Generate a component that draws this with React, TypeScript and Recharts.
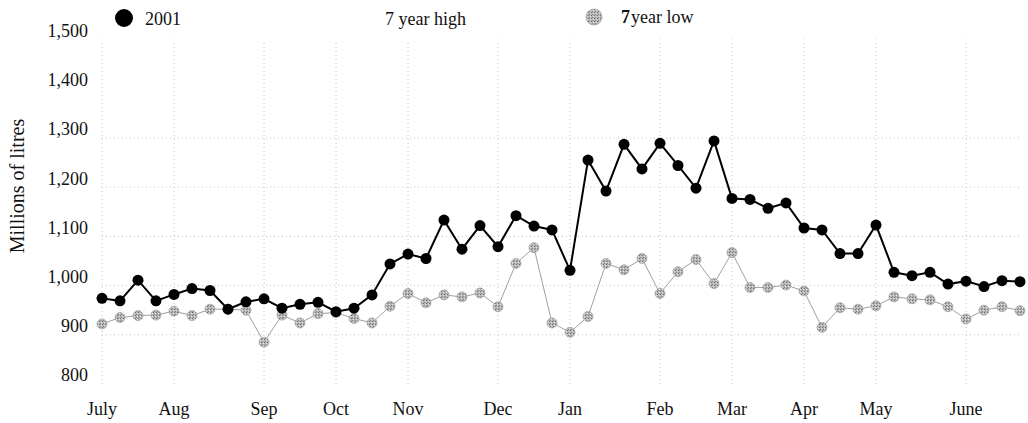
import React from "react";
import { LineChart, Line, XAxis, YAxis, ReferenceLine } from "recharts";

// weekly volumes, July 2001 -> June 2002 (millions of litres)
const actual2001 = [
  974, 969, 1011, 969, 982, 994, 990, 952, 967, 973, 954, 962, 966,
  947, 954, 981, 1044, 1064, 1055, 1133, 1074, 1122, 1079, 1142, 1121, 1113,
  1031, 1255, 1192, 1287, 1237, 1289, 1244, 1198, 1294, 1177, 1175, 1157, 1168,
  1117, 1113, 1065, 1065, 1123, 1027, 1020, 1027, 1003, 1009, 998, 1010, 1008,
];

const sevenYearLow = [
  922, 935, 939, 940, 948, 939, 952, 952, 950, 885, 940, 924, 943,
  945, 933, 924, 958, 984, 965, 981, 977, 985, 957, 1045, 1077, 924,
  905, 937, 1045, 1032, 1055, 984, 1028, 1053, 1004, 1067, 996, 996, 1001,
  989, 915, 955, 952, 959, 977, 973, 971, 957, 932, 950, 957, 949,
];

const monthLabels = ["July", "Aug", "Sep", "Oct", "Nov", "Dec", "Jan", "Feb", "Mar", "Apr", "May", "June"];
const monthWeeks = [0, 4, 9, 13, 17, 22, 26, 31, 35, 39, 43, 48];
const yTicks = [800, 900, 1000, 1100, 1200, 1300, 1400, 1500];
const gridValues = [900, 1000, 1100, 1200, 1300];

const data = actual2001.map((v, i) => ({ week: i, actual: v, low: sevenYearLow[i] }));

const FONT = '"Liberation Serif", "Times New Roman", serif';

const fmt = (v: number) => (v >= 1000 ? `${Math.floor(v / 1000)},${String(v % 1000).padStart(3, "0")}` : String(v));

const YTick = (props: any) => {
  const { x, y, payload } = props;
  return (
    <text x={x} y={y - 9} dy="0.355em" textAnchor="end" fontSize={18} fontFamily={FONT} fill="#111">
      {fmt(payload.value)}
    </text>
  );
};

const XTick = (props: any) => {
  const { x, y, payload } = props;
  const idx = monthWeeks.indexOf(payload.value);
  return (
    <text x={x} y={y} dy="0.71em" textAnchor="middle" fontSize={18} fontFamily={FONT} fill="#111">
      {idx >= 0 ? monthLabels[idx] : ""}
    </text>
  );
};

export default function App() {
  return (
    <div style={{ position: "absolute", left: 0, top: 0, width: 1028, height: 423, background: "#fff" }}>
      <LineChart
        width={1028}
        height={423}
        data={data}
        margin={{ top: 39.5, right: 8, bottom: 9, left: 12 }}
      >
        <defs>
          <pattern id="stipple" width="3" height="3" patternUnits="userSpaceOnUse">
            <rect width="3" height="3" fill="#b8b8b8" />
            <rect x="0" y="0" width="1" height="1" fill="#6e6e6e" />
            <rect x="2" y="1" width="1" height="1" fill="#e2e2e2" />
            <rect x="1" y="2" width="1" height="1" fill="#858585" />
          </pattern>
        </defs>
        {monthWeeks.map((w) => (
          <ReferenceLine key={`v${w}`} x={w} stroke="#c4c4c4" strokeDasharray="1 3" />
        ))}
        {gridValues.map((g) => (
          <ReferenceLine key={`h${g}`} y={g} stroke="#c4c4c4" strokeDasharray="1 3" />
        ))}
        <XAxis
          dataKey="week"
          type="number"
          domain={[0, 51]}
          ticks={monthWeeks}
          interval={0}
          axisLine={false}
          tickLine={false}
          tickSize={0}
          tickMargin={18}
          height={30}
          tick={<XTick />}
        />
        <YAxis
          type="number"
          domain={[800, 1500]}
          ticks={yTicks}
          interval={0}
          axisLine={false}
          tickLine={false}
          tickSize={0}
          tickMargin={14}
          width={90}
          tick={<YTick />}
          label={{
            content: () => (
              <text
                transform="translate(24,186) rotate(-90)"
                textAnchor="middle"
                fontSize={20}
                fontFamily={FONT}
                fill="#111"
              >
                Millions of litres
              </text>
            ),
          }}
        />
        <Line
          type="linear"
          dataKey="low"
          stroke="#a0a0a0"
          strokeWidth={1}
          dot={{ r: 5, fill: "url(#stipple)", stroke: "#a8a8a8", strokeWidth: 0.8 }}
          isAnimationActive={false}
        />
        <Line
          type="linear"
          dataKey="actual"
          stroke="#000"
          strokeWidth={2}
          dot={{ r: 5.5, fill: "#000", stroke: "#000", strokeWidth: 0 }}
          isAnimationActive={false}
        />
      </LineChart>

      <svg width={1028} height={40} style={{ position: "absolute", left: 0, top: 0 }}>
        <defs>
          <pattern id="stippleLegend" width="3" height="3" patternUnits="userSpaceOnUse">
            <rect width="3" height="3" fill="#b8b8b8" />
            <rect x="0" y="0" width="1" height="1" fill="#6e6e6e" />
            <rect x="2" y="1" width="1" height="1" fill="#e2e2e2" />
            <rect x="1" y="2" width="1" height="1" fill="#858585" />
          </pattern>
        </defs>
        <circle cx={124} cy={18} r={9} fill="#000" />
        <text x={145} y={25} fontSize={18} fontFamily={FONT} fill="#111">2001</text>
        <text x={385} y={25} fontSize={18} fontFamily={FONT} fill="#111">7 year high</text>
        <circle cx={594} cy={17} r={8} fill="url(#stippleLegend)" stroke="#aaa" strokeWidth={0.8} />
        <text x={621} y={23} fontSize={18} fontFamily={FONT} fill="#111">
          <tspan fontWeight="bold">7</tspan>
          <tspan dx={1}>year low</tspan>
        </text>
      </svg>
    </div>
  );
}
